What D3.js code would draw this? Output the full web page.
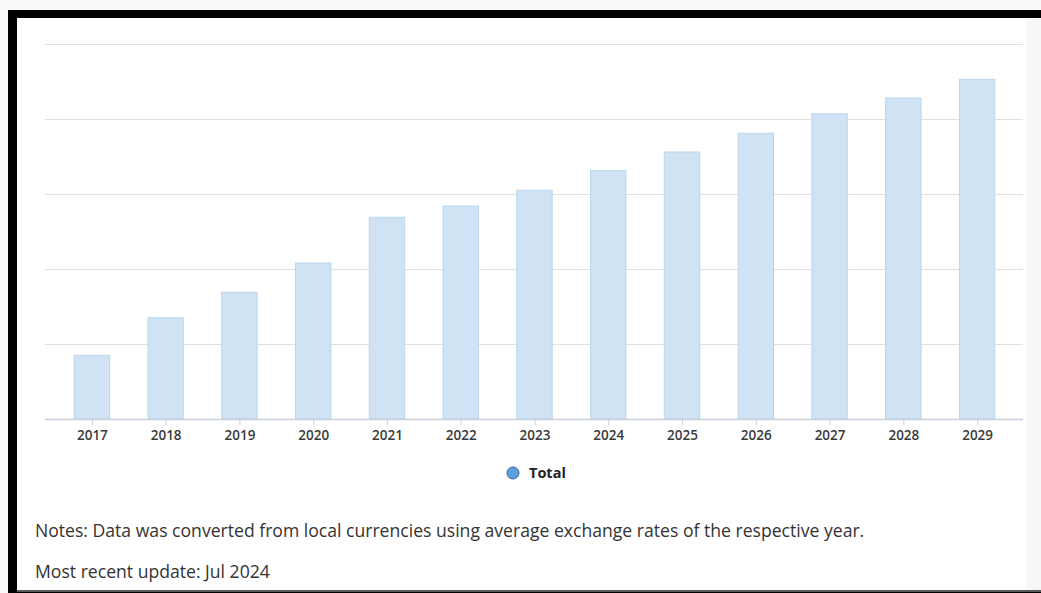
<!DOCTYPE html>
<html>
<head>
<meta charset="utf-8">
<script src="https://cdn.jsdelivr.net/npm/d3@7"></script>
<style>
  body { margin: 0; background: #fafafa; }
  svg { display: block; }
</style>
</head>
<body>
<svg class="myChart" width="1041" height="593"></svg>
<script>
// years and values (arbitrary units, no y labels shown in the original)
const years = ["2017","2018","2019","2020","2021","2022","2023","2024","2025","2026","2027","2028","2029"];
const totals = [85, 135, 169, 208, 269, 284, 305, 331, 356, 381, 407, 428, 453];
const yTicks = [0, 100, 200, 300, 400, 500];
const seriesName = "Total";
const notes = [
  "Notes: Data was converted from local currencies using average exchange rates of the respective year.",
  "Most recent update: Jul 2024"
];

const svg = d3.select(".myChart");

// frame like the screenshot
svg.append("rect").attr("x", 8).attr("y", 10).attr("width", 1041).attr("height", 583).attr("fill", "#000");
svg.append("rect").attr("x", 17).attr("y", 18).attr("width", 1024).attr("height", 572).attr("fill", "#fff");
svg.append("rect").attr("x", 1026).attr("y", 18).attr("width", 15).attr("height", 572).attr("fill", "#f7f7f7");
svg.append("line").attr("x1", 17).attr("x2", 1041).attr("y1", 591).attr("y2", 591)
  .attr("stroke", "#777").attr("stroke-width", 1.5);

const plotLeft = 45, plotRight = 1023;
const x = d3.scaleBand()
  .domain(years)
  .range([55, 1014])
  .paddingInner(0.52)
  .paddingOuter(0.26);

const y = d3.scaleLinear()
  .domain([0, 500])
  .range([419, 44]);

// gridlines
svg.append("g")
  .selectAll("line")
  .data(yTicks.slice(1))
  .join("line")
    .attr("x1", plotLeft)
    .attr("x2", plotRight)
    .attr("y1", d => y(d) + 0.5)
    .attr("y2", d => y(d) + 0.5)
    .attr("stroke", "#e0e0e0")
    .attr("stroke-width", 1);

// bars
svg.append("g")
  .selectAll("rect")
  .data(totals)
  .join("rect")
    .attr("x", (d, i) => x(years[i]))
    .attr("y", d => y(d))
    .attr("width", x.bandwidth())
    .attr("height", d => y(0) - y(d))
    .attr("fill", "#cfe3f5")
    .attr("stroke", "#bcd5ee")
    .attr("stroke-width", 1);

// x axis
const xAxis = d3.axisBottom(d3.scalePoint().domain(years).range([x(years[0]) + x.bandwidth() / 2, x(years[years.length - 1]) + x.bandwidth() / 2]))
  .tickSize(6)
  .tickPadding(5);

const gx = svg.append("g")
  .attr("transform", `translate(0,${y(0)})`)
  .call(xAxis);
gx.select(".domain").remove();
gx.selectAll(".tick line").attr("stroke", "#c8d0dc");
gx.selectAll(".tick text")
  .attr("fill", "#3a3a3a")
  .style("font-family", "'Open Sans', sans-serif")
  .style("font-size", "13.5px")
  .style("font-weight", "600");
svg.append("line")
  .attr("x1", plotLeft).attr("x2", plotRight)
  .attr("y1", y(0) + 0.5).attr("y2", y(0) + 0.5)
  .attr("stroke", "#c8d0dc").attr("stroke-width", 1.5);

// legend
const legend = svg.append("g").attr("transform", "translate(513,473)");
legend.append("circle")
  .attr("r", 6)
  .attr("fill", "#5b9fdc")
  .attr("stroke", "#35689a")
  .attr("stroke-width", 1);
legend.append("text")
  .attr("x", 16)
  .attr("y", 5)
  .attr("fill", "#222")
  .style("font-family", "'Open Sans', sans-serif")
  .style("font-size", "14.5px")
  .style("font-weight", "700")
  .text(seriesName);

// notes
svg.append("g")
  .selectAll("text")
  .data(notes)
  .join("text")
    .attr("x", 35)
    .attr("y", (d, i) => 537 + i * 41)
    .attr("fill", "#333")
    .style("font-family", "'Open Sans', sans-serif")
    .style("font-size", "17.6px")
    .text(d => d);
</script>
</body>
</html>
